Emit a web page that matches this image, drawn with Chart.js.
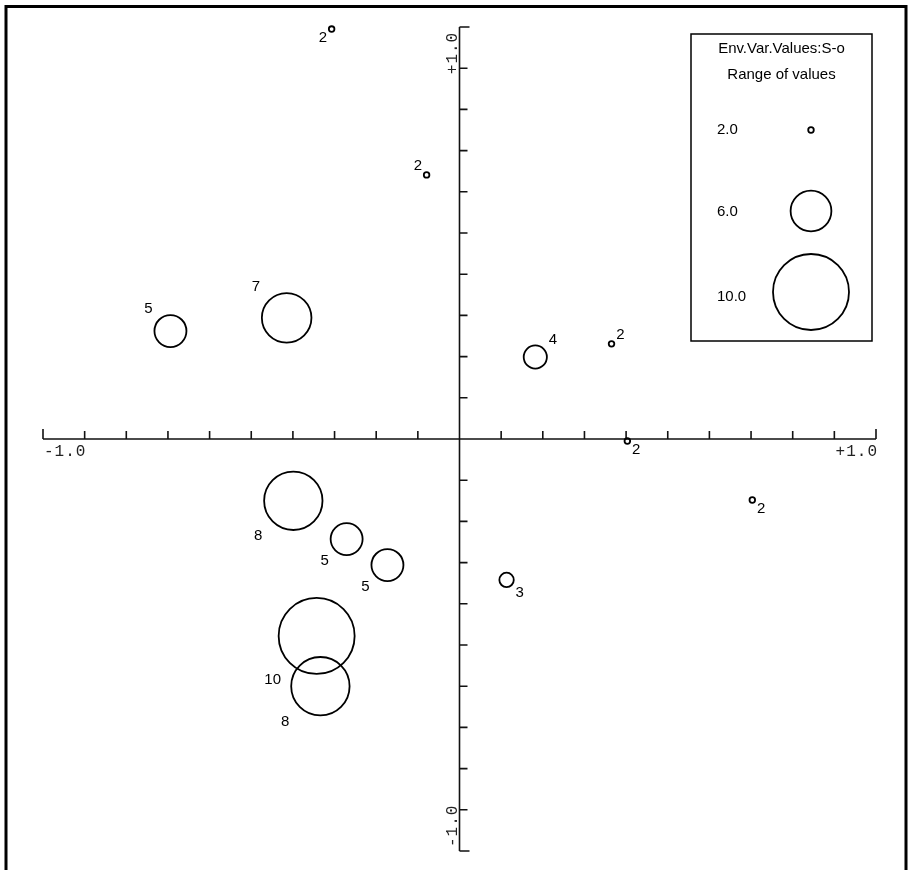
<!DOCTYPE html>
<html>
<head>
<meta charset="utf-8">
<title>Env.Var.Values:S-o</title>
<script src="https://cdn.jsdelivr.net/npm/chart.js@4.4.1/dist/chart.umd.min.js"></script>
<style>
  html, body { margin: 0; padding: 0; background: #fff; }
  canvas { display: block; }
</style>
</head>
<body>
<canvas id="ordination" width="908" height="870"></canvas>
<script>
// site scores on the two axes, and the S-o value shown beside each circle
var xs = [-0.307, -0.079, -0.694, -0.415, 0.182, 0.365, 0.403, 0.703, -0.399, -0.271, -0.173, 0.113, -0.343, -0.334];
var ys = [0.995, 0.641, 0.262, 0.294, 0.199, 0.231, -0.005, -0.148, -0.150, -0.243, -0.306, -0.342, -0.478, -0.600];
var values = [2, 2, 5, 7, 4, 2, 2, 2, 8, 5, 5, 3, 10, 8];

// which corner the number sits at (u/l = up/low, l/r = left/right)
var labelSide = ['ll', 'ul', 'ul', 'ul', 'ur', 'ur', 'lr', 'lr', 'll', 'll', 'll', 'lr', 'll', 'll'];

var legendTitle = 'Env.Var.Values:S-o';
var legendSubtitle = 'Range of values';
var legendValues = [2, 6, 10];
var legendLabels = ['2.0', '6.0', '10.0'];

var xTickLabels = ['-1.0', '+1.0'];
var yTickLabels = ['+1.0', '-1.0'];
var tickStep = 0.1;

// circle radius (px) grows with the value
function radiusFor(v) {
  return 4.4 * v - 6;
}

var pts = [];
for (var i = 0; i < xs.length; i++) {
  pts.push({x: xs[i], y: ys[i]});
}

var frame = {
  id: 'frame',
  beforeDraw: function(chart) {
    var c = chart.ctx;
    c.save();
    c.fillStyle = '#fff';
    c.fillRect(0, 0, chart.width, chart.height);
    c.strokeStyle = '#000';
    c.lineWidth = 3;
    c.beginPath();
    c.moveTo(6, chart.height + 5);
    c.lineTo(6, 6.5);
    c.lineTo(906, 6.5);
    c.lineTo(906, chart.height + 5);
    c.stroke();
    c.restore();
  }
};

// the cross of axes through the origin, ticks every 0.1
var crossAxes = {
  id: 'crossAxes',
  beforeDatasetsDraw: function(chart) {
    var c = chart.ctx;
    var sx = chart.scales.x, sy = chart.scales.y;
    var x0 = sx.getPixelForValue(0), y0 = sy.getPixelForValue(0);
    var xl = sx.getPixelForValue(-1), xr = sx.getPixelForValue(1);
    var yt = sy.getPixelForValue(1), yb = sy.getPixelForValue(-1);
    c.save();
    c.strokeStyle = '#111';
    c.lineWidth = 1.6;
    c.beginPath();
    c.moveTo(xl, y0); c.lineTo(xr, y0);
    c.moveTo(x0, yt); c.lineTo(x0, yb);
    var n = Math.round(1 / tickStep);
    for (var k = -n; k <= n; k++) {
      var px = sx.getPixelForValue(k * tickStep);
      var len = (k === -n || k === n) ? 10 : 8;
      c.moveTo(px, y0); c.lineTo(px, y0 - len);
      var py = sy.getPixelForValue(k * tickStep);
      if (k !== 0) {
        c.moveTo(x0, py); c.lineTo(x0 + len, py);
      }
    }
    c.stroke();

    c.fillStyle = '#222';
    c.font = '16px "Liberation Mono"';
    c.letterSpacing = '1px';
    c.textBaseline = 'alphabetic';
    c.textAlign = 'left';
    c.fillText(xTickLabels[0], xl + 1, y0 + 17);
    c.textAlign = 'right';
    c.fillText(xTickLabels[1], xr + 2, y0 + 17);

    c.save();
    c.translate(x0 - 3, sy.getPixelForValue(0.9) + 6);
    c.rotate(-Math.PI / 2);
    c.textAlign = 'left';
    c.fillText(yTickLabels[0], 0, 0);
    c.restore();
    c.save();
    c.translate(x0 - 3, yb - 4);
    c.rotate(-Math.PI / 2);
    c.textAlign = 'left';
    c.fillText(yTickLabels[1], 0, 0);
    c.restore();
    c.restore();
  }
};

var pointLabels = {
  id: 'pointLabels',
  afterDatasetsDraw: function(chart) {
    var c = chart.ctx;
    var meta = chart.getDatasetMeta(0);
    c.save();
    c.fillStyle = '#000';
    c.font = '15px "Liberation Sans"';
    c.textAlign = 'center';
    c.textBaseline = 'middle';
    meta.data.forEach(function(el, i) {
      var d = radiusFor(values[i]) + 6;
      var side = labelSide[i];
      var dx = side.charAt(1) === 'l' ? -d : d;
      var dy = side.charAt(0) === 'u' ? -d : d;
      c.fillText(String(values[i]), el.x + dx, el.y + dy);
    });
    c.restore();
  }
};

var sizeLegend = {
  id: 'sizeLegend',
  afterDraw: function(chart) {
    var c = chart.ctx;
    var box = {l: 691, t: 34, r: 872, b: 341};
    var mid = (box.l + box.r) / 2;
    var rowsY = [130, 211, 292];
    var textY = [130, 212, 297];
    c.save();
    c.fillStyle = '#fff';
    c.fillRect(box.l, box.t, box.r - box.l, box.b - box.t);
    c.strokeStyle = '#000';
    c.lineWidth = 1.5;
    c.strokeRect(box.l, box.t, box.r - box.l, box.b - box.t);
    c.fillStyle = '#000';
    c.font = '15px "Liberation Sans"';
    c.textBaseline = 'middle';
    c.textAlign = 'center';
    c.fillText(legendTitle, mid, 49);
    c.fillText(legendSubtitle, mid, 75);
    c.textAlign = 'left';
    c.lineWidth = 1.8;
    for (var i = 0; i < legendValues.length; i++) {
      c.fillText(legendLabels[i], 717, textY[i]);
      c.beginPath();
      c.arc(811, rowsY[i], radiusFor(legendValues[i]), 0, Math.PI * 2);
      c.stroke();
    }
    c.restore();
  }
};

new Chart(document.getElementById('ordination'), {
  type: 'scatter',
  data: {
    datasets: [{
      data: pts,
      clip: false,
      pointRadius: function(ctx) { return radiusFor(values[ctx.dataIndex]); },
      pointBackgroundColor: 'rgba(0,0,0,0)',
      pointBorderColor: '#000',
      pointBorderWidth: 1.8
    }]
  },
  options: {
    responsive: false,
    animation: false,
    devicePixelRatio: 1,
    layout: {autoPadding: false, padding: {left: 43, right: 32, top: 27, bottom: 19}},
    scales: {
      x: {display: false, min: -1, max: 1},
      y: {display: false, min: -1, max: 1}
    },
    plugins: {
      legend: {display: false},
      tooltip: {enabled: false}
    }
  },
  plugins: [frame, crossAxes, pointLabels, sizeLegend]
});
</script>
</body>
</html>
